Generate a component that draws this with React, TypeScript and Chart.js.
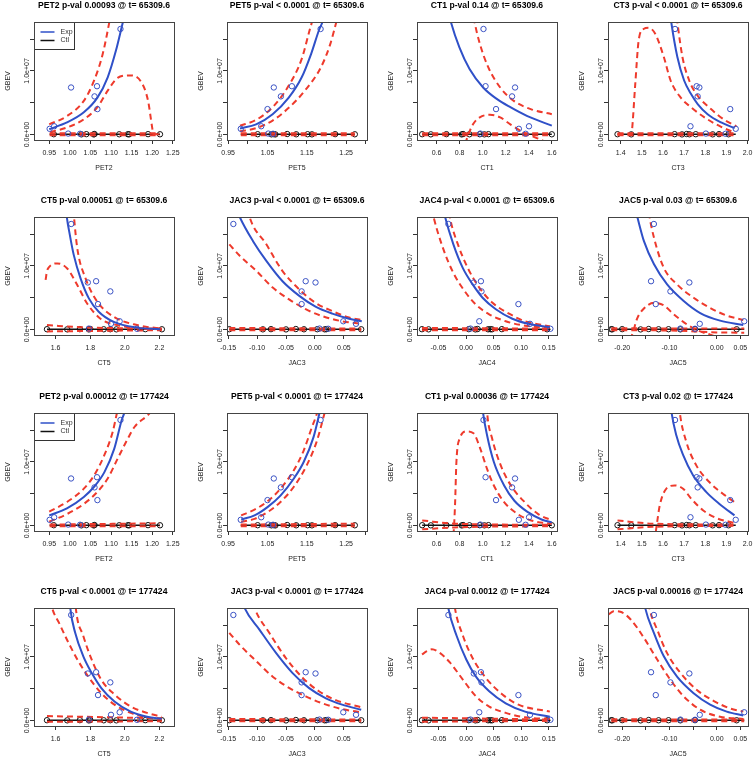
import React, { useEffect, useRef } from "react";
import { Chart, registerables } from "chart.js";

Chart.register(...registerables);

const FONT = '"Liberation Sans", Arial, Helvetica, sans-serif';
const BLUE = "#2f50c8";
const BLUE_PT = "#3a52c4";
const RED = "#ee3a2c";
const BLACK = "#111111";
const DASH = [6, 4];

// ---------------- data (GBEV in millions) ----------------
const EXP_GBEV = [16.6, 7.6, 7.4, 6.0, 4.0, 1.3, 0.9, 0.15, 0.12];
const CTL_GBEV = [0.05, 0.03, 0.06, 0.02, 0.08, 0.04, 0.05, 0.03, 0.06, 0.04];

const Y_RANGE = [-0.86, 17.7];
const Y_TICKS = [0, 5, 10, 15];
const Y_TICK_LABELS = ["0.0e+00", "", "1.0e+07", ""];
const LEGEND_LABELS = ["Exp", "Ctl"];
const LEGEND_COLORS = [BLUE, BLACK];

const PET2_EXP_X = [1.123, 1.066, 1.003, 1.06, 1.067, 0.962, 0.951, 0.996, 1.025];
const PET5_EXP_X = [1.185, 1.112, 1.066, 1.084, 1.05, 1.034, 0.982, 1.052, 1.064];
const CT1_EXP_X = [1.007, 1.025, 1.281, 1.255, 1.116, 1.402, 1.314, 0.98, 1.373];
const CT3_EXP_X = [1.657, 1.759, 1.772, 1.764, 1.918, 1.73, 1.944, 1.803, 1.896];
const CT5_EXP_X = [1.69, 1.834, 1.786, 1.916, 1.845, 1.97, 1.92, 1.792, 2.07];
const JAC3_EXP_X = [-0.141, -0.016, 0.001, -0.023, -0.023, 0.049, 0.071, 0.008, 0.023];
const JAC4_EXP_X = [-0.032, 0.027, 0.014, 0.028, 0.095, 0.024, 0.116, 0.008, 0.153];
const JAC5_EXP_X = [-0.133, -0.139, -0.058, -0.098, -0.129, 0.058, -0.036, -0.077, -0.046];

const PET2_CTL_X = [0.961, 1.028, 1.04, 1.058, 1.06, 1.12, 1.141, 1.144, 1.19, 1.219];
const PET5_CTL_X = [1.025, 1.06, 1.066, 1.07, 1.1, 1.123, 1.152, 1.163, 1.222, 1.272];
const CT1_CTL_X = [0.475, 0.55, 0.685, 0.818, 0.83, 0.885, 0.975, 1.015, 1.05, 1.6];
const CT3_CTL_X = [1.385, 1.45, 1.655, 1.69, 1.712, 1.725, 1.755, 1.835, 1.865, 1.91];
const CT5_CTL_X = [1.55, 1.667, 1.74, 1.792, 1.8, 1.878, 1.916, 1.951, 2.118, 2.214];
const JAC3_CTL_X = [-0.148, -0.09, -0.076, -0.05, -0.033, -0.019, 0.004, 0.017, 0.02, 0.08];
const JAC4_CTL_X = [-0.08, -0.068, 0.005, 0.017, 0.021, 0.04, 0.044, 0.047, 0.065, 0.147];
const JAC5_CTL_X = [-0.223, -0.221, -0.2, -0.161, -0.144, -0.123, -0.102, -0.077, -0.046, 0.042];

const PET2_CTL_FIT = [[0.951, 0.05], [1.219, 0.05]];
const PET5_CTL_FIT = [[0.982, 0.05], [1.272, 0.05]];
const CT1_CTL_FIT = [[0.475, 0.05], [1.6, 0.05]];
const CT3_CTL_FIT = [[1.385, 0.05], [1.944, 0.05]];
const CT5_CTL_FIT = [[1.55, 0.05], [2.214, 0.05]];
const JAC3_CTL_FIT = [[-0.148, 0.05], [0.08, 0.05]];
const JAC4_CTL_FIT = [[-0.08, 0.05], [0.153, 0.05]];
const JAC5_CTL_FIT = [[-0.223, 0.05], [0.058, 0.05]];

const PET2_RANGE = [0.913, 1.253];
const PET5_RANGE = [0.947, 1.303];
const CT1_RANGE = [0.43, 1.645];
const CT3_RANGE = [1.34, 2.002];
const CT5_RANGE = [1.475, 2.284];
const JAC3_RANGE = [-0.152, 0.09];
const JAC4_RANGE = [-0.089, 0.165];
const JAC5_RANGE = [-0.23, 0.066];

const PET2_TICKS = [0.95, 1.0, 1.05, 1.1, 1.15, 1.2, 1.25];
const PET2_TICK_LABELS = ["0.95", "1.00", "1.05", "1.10", "1.15", "1.20", "1.25"];
const PET5_TICKS = [0.95, 1.0, 1.05, 1.1, 1.15, 1.2, 1.25, 1.3];
const PET5_TICK_LABELS = ["0.95", "", "1.05", "", "1.15", "", "1.25", ""];
const CT1_TICKS = [0.6, 0.8, 1.0, 1.2, 1.4, 1.6];
const CT1_TICK_LABELS = ["0.6", "0.8", "1.0", "1.2", "1.4", "1.6"];
const CT3_TICKS = [1.4, 1.5, 1.6, 1.7, 1.8, 1.9, 2.0];
const CT3_TICK_LABELS = ["1.4", "1.5", "1.6", "1.7", "1.8", "1.9", "2.0"];
const CT5_TICKS = [1.6, 1.8, 2.0, 2.2];
const CT5_TICK_LABELS = ["1.6", "1.8", "2.0", "2.2"];
const JAC3_TICKS = [-0.15, -0.1, -0.05, 0, 0.05];
const JAC3_TICK_LABELS = ["-0.15", "-0.10", "-0.05", "0.00", "0.05"];
const JAC4_TICKS = [-0.05, 0, 0.05, 0.1, 0.15];
const JAC4_TICK_LABELS = ["-0.05", "0.00", "0.05", "0.10", "0.15"];
const JAC5_TICKS = [-0.2, -0.15, -0.1, -0.05, 0, 0.05];
const JAC5_TICK_LABELS = ["-0.20", "", "-0.10", "", "0.00", "0.05"];

// ---------- fitted curves ([x, GBEV millions]) ----------
const P1_FIT = [[0.95, 0.84], [0.993, 1.9], [1.034, 3.5], [1.067, 5.8], [1.092, 9.0], [1.112, 13.2], [1.129, 17.7], [1.14, 20.5]];
const P1_UP = [[0.95, 1.6], [0.993, 2.9], [1.034, 5.3], [1.059, 8.5], [1.08, 12.7], [1.096, 17.7], [1.105, 21]];
const P1_LO = [[0.952, 0.4], [0.993, 1.1], [1.034, 2.4], [1.067, 4.3], [1.092, 6.9], [1.116, 8.9], [1.145, 9.3], [1.174, 8.2], [1.19, 5.3], [1.2, 1.1], [1.203, 0.05], [1.219, 0.05]];
const P1_CUP = [[0.951, 0.2], [1.219, 0.2]];
const P1_CLO = [[0.951, -0.1], [1.219, -0.1]];

const P2_FIT = [[0.98, 0.95], [1.021, 1.6], [1.063, 3.2], [1.104, 5.8], [1.137, 9.0], [1.161, 12.7], [1.182, 16.6], [1.19, 17.7], [1.205, 21]];
const P2_UP = [[0.98, 1.4], [1.021, 2.3], [1.063, 4.3], [1.104, 7.7], [1.137, 11.9], [1.157, 16.4], [1.163, 17.7], [1.175, 21]];
const P2_LO = [[0.98, 0.5], [1.021, 1.0], [1.063, 2.2], [1.104, 4.2], [1.145, 6.9], [1.186, 10.6], [1.21, 14.3], [1.225, 17.7], [1.235, 20]];
const P2_CUP = [[0.982, 0.2], [1.272, 0.2]];
const P2_CLO = [[0.982, -0.1], [1.272, -0.1]];

const P3_FIT = [[0.7, 19.5], [0.724, 17.7], [0.798, 13.7], [0.886, 10.3], [1.004, 7.4], [1.122, 5.6], [1.24, 4.3], [1.388, 2.9], [1.6, 1.4]];
const P3_UP = [[0.91, 20], [0.93, 17.7], [0.975, 14.3], [1.048, 10.6], [1.152, 7.4], [1.27, 5.3], [1.417, 4.0], [1.6, 3.2]];
const P3_LO = [[0.85, -1.5], [0.857, -1.0], [0.916, 1.6], [0.975, 2.7], [1.063, 3.1], [1.152, 2.7], [1.24, 1.6], [1.358, 0.3], [1.49, -0.7], [1.55, -1.2]];
const P3_CUP = [[0.475, 0.2], [1.6, 0.2]];
const P3_CLO = [[0.475, -0.1], [1.6, -0.1]];

const P4_FIT = [[1.63, 20], [1.639, 17.7], [1.668, 12.2], [1.7, 8.5], [1.732, 6.4], [1.764, 4.8], [1.811, 3.2], [1.875, 1.9], [1.939, 1.0]];
const P4_UP = [[1.66, 20], [1.668, 17.7], [1.692, 12.2], [1.724, 8.5], [1.764, 6.1], [1.827, 4.0], [1.891, 2.3], [1.947, 1.3]];
const P4_LO = [[1.385, 0.05], [1.45, 0.05], [1.453, 0.5], [1.469, 8.0], [1.485, 14.8], [1.508, 16.6], [1.532, 16.8], [1.564, 15.8], [1.604, 12.2], [1.636, 8.5], [1.684, 5.8], [1.732, 4.3], [1.796, 2.7], [1.875, 1.2], [1.939, 0.3]];
const P4_CUP = [[1.385, 0.2], [1.944, 0.2]];
const P4_CLO = [[1.385, -0.1], [1.944, -0.1]];

const P5_FIT = [[1.655, 20.5], [1.663, 18.05], [1.682, 14.9], [1.705, 11.7], [1.744, 8.05], [1.792, 4.9], [1.849, 2.8], [1.936, 1.2], [2.07, 0.3], [2.204, 0.05]];
const P5_UP = [[1.698, 20.5], [1.705, 18.05], [1.725, 12.8], [1.773, 8.05], [1.84, 4.4], [1.936, 2.0], [2.07, 0.7], [2.204, 0.16]];
const P5_LO = [[1.542, 7.8], [1.552, 9.4], [1.61, 10.4], [1.667, 9.6], [1.725, 7.0], [1.782, 4.1], [1.859, 1.7], [1.955, 0.7], [2.089, 0.16], [2.204, 0.05]];
const P5_CUP = [[1.55, 0.7], [1.75, 0.35], [2.214, 0.15]];
const P5_CLO = [[1.55, -0.3], [2.214, -0.1]];

const P6_FIT = [[-0.14, 20], [-0.13, 17.7], [-0.107, 13.9], [-0.084, 10.8], [-0.056, 7.6], [-0.027, 5.3], [0.001, 3.6], [0.03, 2.5], [0.059, 1.7], [0.081, 1.3]];
const P6_UP = [[-0.12, 20.5], [-0.113, 17.7], [-0.084, 13.4], [-0.056, 9.2], [-0.027, 6.3], [0.001, 4.2], [0.03, 2.9], [0.059, 1.9], [0.081, 1.5]];
const P6_LO = [[-0.148, 13.4], [-0.13, 11.6], [-0.101, 9.2], [-0.073, 6.6], [-0.044, 4.7], [-0.016, 3.2], [0.013, 2.1], [0.047, 1.3], [0.081, 0.9]];
const P6_CUP = [[-0.148, 0.25], [0.08, 0.15]];
const P6_CLO = [[-0.148, -0.1], [0.08, -0.1]];

const P7_FIT = [[-0.045, 20.5], [-0.038, 17.7], [-0.023, 13.4], [-0.006, 9.7], [0.012, 7.1], [0.03, 5.0], [0.054, 3.2], [0.084, 1.7], [0.113, 0.9], [0.152, 0.37]];
const P7_UP = [[-0.034, 20], [-0.028, 17.1], [-0.014, 13.2], [0.003, 9.7], [0.024, 6.6], [0.048, 4.2], [0.078, 2.5], [0.107, 1.3], [0.152, 0.5]];
const P7_LO = [[-0.062, 19], [-0.058, 17.4], [-0.041, 12.6], [-0.023, 8.9], [-0.003, 6.1], [0.018, 3.9], [0.042, 2.4], [0.072, 1.3], [0.107, 0.6], [0.152, 0.25]];
const P7_CUP = [[-0.08, 0.25], [0.153, 0.15]];
const P7_CLO = [[-0.08, -0.1], [0.153, -0.1]];

const P8_FIT = [[-0.178, 20.5], [-0.168, 17.7], [-0.154, 13.9], [-0.133, 10.3], [-0.105, 7.1], [-0.07, 4.5], [-0.035, 2.6], [0.007, 1.4], [0.056, 0.7]];
const P8_UP = [[-0.146, 20], [-0.142, 17.7], [-0.133, 14.5], [-0.112, 9.7], [-0.084, 7.1], [-0.049, 5.0], [-0.014, 3.4], [0.021, 2.2], [0.056, 1.5]];
const P8_LO = [[-0.185, -1.5], [-0.179, -0.8], [-0.168, 1.8], [-0.154, 3.3], [-0.133, 4.2], [-0.112, 3.8], [-0.091, 2.4], [-0.063, 0.8], [-0.035, -0.3], [-0.014, -0.8], [0.0, -1.2]];
const P8_CUP = [[-0.223, 0.2], [0.058, 0.15]];
const P8_CLO = [[-0.223, -0.1], [-0.1, -0.15], [0.0, -0.45], [0.058, -0.5]];

const P9_FIT = [[0.95, 1.6], [0.993, 2.7], [1.034, 4.5], [1.059, 6.1], [1.084, 8.4], [1.108, 12.1], [1.126, 16.6], [1.133, 17.9], [1.142, 21]];
const P9_UP = [[0.95, 2.2], [0.993, 3.7], [1.034, 5.8], [1.059, 7.9], [1.084, 11.1], [1.104, 14.7], [1.115, 17.9], [1.125, 21]];
const P9_LO = [[0.95, 0.6], [0.993, 1.8], [1.034, 3.4], [1.067, 5.3], [1.092, 7.4], [1.116, 10.5], [1.141, 13.7], [1.157, 15.5], [1.19, 17.4], [1.205, 18.5]];
const P9_CUP = [[0.951, 0.15], [1.219, 0.35]];
const P9_CLO = [[0.951, -0.1], [1.219, -0.1]];

const P10_FIT = [[0.983, 0.95], [1.017, 1.6], [1.05, 2.9], [1.083, 4.7], [1.117, 7.4], [1.142, 10.0], [1.167, 13.9], [1.183, 17.9], [1.195, 21]];
const P10_UP = [[0.983, 1.6], [1.017, 2.5], [1.05, 3.8], [1.083, 5.8], [1.117, 8.7], [1.142, 11.8], [1.162, 15.3], [1.177, 17.9], [1.187, 20.5]];
const P10_LO = [[0.983, 0.6], [1.017, 1.05], [1.05, 2.1], [1.083, 3.7], [1.117, 6.1], [1.15, 9.5], [1.175, 13.2], [1.196, 17.9], [1.205, 20]];
const P10_CUP = [[0.982, 0.15], [1.272, 0.3]];
const P10_CLO = [[0.982, -0.1], [1.272, -0.1]];

const P11_FIT = [[0.99, 20], [1.002, 17.9], [1.038, 14.2], [1.097, 10.0], [1.186, 6.3], [1.275, 3.9], [1.393, 2.1], [1.511, 0.95], [1.6, 0.5]];
const P11_UP = [[1.03, 20.5], [1.038, 17.9], [1.082, 13.7], [1.156, 9.5], [1.245, 6.3], [1.363, 3.7], [1.482, 1.8], [1.6, 0.8]];
const P11_LO = [[0.745, -1.5], [0.748, -1.05], [0.76, 3.2], [0.772, 10.0], [0.801, 13.7], [0.86, 14.8], [0.92, 14.5], [0.979, 12.1], [1.038, 8.9], [1.097, 6.3], [1.186, 3.7], [1.304, 1.8], [1.422, 0.8], [1.6, 0.26]];
const P11_CUP = [[0.475, 0.8], [0.75, 0.3], [1.6, 0.1]];
const P11_CLO = [[0.475, -0.6], [0.75, -0.3], [1.6, -0.1]];

const P12_FIT = [[1.63, 21], [1.64, 17.9], [1.663, 14.2], [1.695, 11.1], [1.742, 7.9], [1.804, 5.3], [1.867, 3.4], [1.938, 1.6]];
const P12_UP = [[1.672, 20.5], [1.679, 17.9], [1.71, 13.2], [1.757, 9.5], [1.82, 6.8], [1.883, 5.0], [1.938, 3.7]];
const P12_LO = [[1.566, -1.0], [1.569, -0.26], [1.585, 3.2], [1.616, 5.8], [1.655, 6.3], [1.695, 5.8], [1.734, 4.2], [1.789, 2.4], [1.851, 1.2], [1.938, 0.4]];
const P12_CUP = [[1.385, 0.8], [1.55, 0.3], [1.944, 0.15]];
const P12_CLO = [[1.385, -0.6], [1.55, -0.2], [1.944, -0.05]];

const P13_FIT = [[1.675, 21], [1.685, 17.6], [1.713, 13.8], [1.76, 10.1], [1.808, 7.5], [1.864, 5.1], [1.94, 3.0], [2.034, 1.4], [2.128, 0.6], [2.213, 0.26]];
const P13_UP = [[1.708, 21], [1.717, 17.6], [1.76, 13.3], [1.808, 9.6], [1.864, 6.4], [1.94, 4.1], [2.034, 2.2], [2.128, 1.2], [2.213, 0.6]];
const P13_LO = [[1.57, 19], [1.581, 17.6], [1.619, 15.4], [1.675, 12.2], [1.732, 9.3], [1.789, 6.9], [1.864, 4.3], [1.94, 2.5], [2.034, 1.2], [2.128, 0.5], [2.213, 0.2]];
const P13_CUP = [[1.55, 0.7], [2.214, 0.35]];
const P13_CLO = [[1.55, -0.2], [2.214, -0.1]];

const P14_FIT = [[-0.13, 20], [-0.121, 17.6], [-0.096, 14.3], [-0.067, 10.6], [-0.039, 7.5], [-0.01, 5.1], [0.019, 3.5], [0.047, 2.5], [0.08, 1.7]];
const P14_UP = [[-0.112, 20], [-0.104, 17.6], [-0.079, 13.8], [-0.05, 9.8], [-0.021, 6.7], [0.007, 4.6], [0.036, 3.2], [0.08, 2.1]];
const P14_LO = [[-0.148, 13.8], [-0.13, 11.9], [-0.101, 9.3], [-0.073, 6.9], [-0.044, 5.1], [-0.016, 3.8], [0.013, 2.7], [0.047, 1.8], [0.08, 1.3]];
const P14_CUP = [[-0.148, 0.25], [0.08, 0.15]];
const P14_CLO = [[-0.148, -0.1], [0.08, -0.1]];

const P15_FIT = [[-0.038, 21], [-0.032, 17.6], [-0.017, 13.3], [0.0004, 9.6], [0.018, 6.9], [0.042, 4.6], [0.072, 2.7], [0.107, 1.4], [0.152, 0.6]];
const P15_UP = [[-0.025, 21], [-0.02, 17.6], [-0.0055, 13.3], [0.012, 9.8], [0.036, 6.7], [0.066, 4.1], [0.095, 2.5], [0.152, 1.4]];
const P15_LO = [[-0.08, 10.4], [-0.071, 10.9], [-0.062, 11.2], [-0.047, 10.6], [-0.029, 9.1], [-0.0055, 6.4], [0.018, 3.8], [0.042, 2.2], [0.072, 1.2], [0.107, 0.5], [0.152, 0.26]];
const P15_CUP = [[-0.08, 0.45], [0.153, 0.15]];
const P15_CLO = [[-0.08, -0.2], [0.153, -0.05]];

const P16_FIT = [[-0.158, 20.5], [-0.151, 17.6], [-0.133, 13.8], [-0.112, 10.1], [-0.084, 6.9], [-0.049, 4.3], [-0.014, 2.5], [0.021, 1.4], [0.056, 0.8]];
const P16_UP = [[-0.147, 20], [-0.142, 17.6], [-0.126, 14.3], [-0.105, 10.6], [-0.077, 7.5], [-0.042, 4.8], [-0.007, 3.1], [0.028, 1.9], [0.056, 1.4]];
const P16_LO = [[-0.228, 16.7], [-0.218, 17.2], [-0.204, 17.1], [-0.182, 15.9], [-0.154, 13.0], [-0.126, 9.6], [-0.098, 6.4], [-0.07, 3.8], [-0.035, 1.7], [0.007, 0.6], [0.056, 0.26]];
const P16_CUP = [[-0.223, 0.2], [0.058, 0.15]];
const P16_CLO = [[-0.223, -0.1], [0.058, -0.1]];

const PANEL_TITLES = [
  "PET2 p-val 0.00093 @ t= 65309.6",
  "PET5 p-val < 0.0001 @ t= 65309.6",
  "CT1 p-val 0.14 @ t= 65309.6",
  "CT3 p-val < 0.0001 @ t= 65309.6",
  "CT5 p-val 0.00051 @ t= 65309.6",
  "JAC3 p-val < 0.0001 @ t= 65309.6",
  "JAC4 p-val < 0.0001 @ t= 65309.6",
  "JAC5 p-val 0.03 @ t= 65309.6",
  "PET2 p-val 0.00012 @ t= 177424",
  "PET5 p-val < 0.0001 @ t= 177424",
  "CT1 p-val 0.00036 @ t= 177424",
  "CT3 p-val 0.02 @ t= 177424",
  "CT5 p-val < 0.0001 @ t= 177424",
  "JAC3 p-val < 0.0001 @ t= 177424",
  "JAC4 p-val 0.0012 @ t= 177424",
  "JAC5 p-val 0.00016 @ t= 177424",
];
const PANEL_VARS = ["PET2", "PET5", "CT1", "CT3", "CT5", "JAC3", "JAC4", "JAC5", "PET2", "PET5", "CT1", "CT3", "CT5", "JAC3", "JAC4", "JAC5"];
const PANEL_LEGEND = [true, false, false, false, false, false, false, false, true, false, false, false, false, false, false, false];

// ---------- tables built from the arrays ----------
const VARIABLES: any = {
  PET2: { expX: PET2_EXP_X, ctlX: PET2_CTL_X, ctlFit: PET2_CTL_FIT, range: PET2_RANGE, ticks: PET2_TICKS, labels: PET2_TICK_LABELS },
  PET5: { expX: PET5_EXP_X, ctlX: PET5_CTL_X, ctlFit: PET5_CTL_FIT, range: PET5_RANGE, ticks: PET5_TICKS, labels: PET5_TICK_LABELS },
  CT1: { expX: CT1_EXP_X, ctlX: CT1_CTL_X, ctlFit: CT1_CTL_FIT, range: CT1_RANGE, ticks: CT1_TICKS, labels: CT1_TICK_LABELS },
  CT3: { expX: CT3_EXP_X, ctlX: CT3_CTL_X, ctlFit: CT3_CTL_FIT, range: CT3_RANGE, ticks: CT3_TICKS, labels: CT3_TICK_LABELS },
  CT5: { expX: CT5_EXP_X, ctlX: CT5_CTL_X, ctlFit: CT5_CTL_FIT, range: CT5_RANGE, ticks: CT5_TICKS, labels: CT5_TICK_LABELS },
  JAC3: { expX: JAC3_EXP_X, ctlX: JAC3_CTL_X, ctlFit: JAC3_CTL_FIT, range: JAC3_RANGE, ticks: JAC3_TICKS, labels: JAC3_TICK_LABELS },
  JAC4: { expX: JAC4_EXP_X, ctlX: JAC4_CTL_X, ctlFit: JAC4_CTL_FIT, range: JAC4_RANGE, ticks: JAC4_TICKS, labels: JAC4_TICK_LABELS },
  JAC5: { expX: JAC5_EXP_X, ctlX: JAC5_CTL_X, ctlFit: JAC5_CTL_FIT, range: JAC5_RANGE, ticks: JAC5_TICKS, labels: JAC5_TICK_LABELS },
};

const CURVES: any[] = [
  [P1_FIT, P1_UP, P1_LO, P1_CUP, P1_CLO],
  [P2_FIT, P2_UP, P2_LO, P2_CUP, P2_CLO],
  [P3_FIT, P3_UP, P3_LO, P3_CUP, P3_CLO],
  [P4_FIT, P4_UP, P4_LO, P4_CUP, P4_CLO],
  [P5_FIT, P5_UP, P5_LO, P5_CUP, P5_CLO],
  [P6_FIT, P6_UP, P6_LO, P6_CUP, P6_CLO],
  [P7_FIT, P7_UP, P7_LO, P7_CUP, P7_CLO],
  [P8_FIT, P8_UP, P8_LO, P8_CUP, P8_CLO],
  [P9_FIT, P9_UP, P9_LO, P9_CUP, P9_CLO],
  [P10_FIT, P10_UP, P10_LO, P10_CUP, P10_CLO],
  [P11_FIT, P11_UP, P11_LO, P11_CUP, P11_CLO],
  [P12_FIT, P12_UP, P12_LO, P12_CUP, P12_CLO],
  [P13_FIT, P13_UP, P13_LO, P13_CUP, P13_CLO],
  [P14_FIT, P14_UP, P14_LO, P14_CUP, P14_CLO],
  [P15_FIT, P15_UP, P15_LO, P15_CUP, P15_CLO],
  [P16_FIT, P16_UP, P16_LO, P16_CUP, P16_CLO],
];

// ---------- layout ----------
const COL_LEFT = [34, 227, 417, 608];
const ROW_TOP = [22, 217, 412.5, 608];
const BOX_W = 140;
const BOX_H = 118;
const AXIS_W = 34;
const TITLE_H = 24;
const XAXIS_H = 36;
const RIGHT_PAD = 12;

const framePlugin = {
  id: "rFrame",
  afterDraw(chart: any) {
    const { ctx, chartArea: a, scales } = chart;
    ctx.save();
    ctx.strokeStyle = "#444";
    ctx.lineWidth = 1;
    ctx.strokeRect(Math.round(a.left) + 0.5, Math.round(a.top) + 0.5, Math.round(a.right - a.left), Math.round(a.bottom - a.top));
    ctx.fillStyle = "#222";
    ctx.font = `7px ${FONT}`;
    ctx.textAlign = "center";
    ctx.textBaseline = "middle";
    Y_TICKS.forEach((v, i) => {
      const lab = Y_TICK_LABELS[i];
      if (!lab) return;
      const y = scales.y.getPixelForValue(v);
      ctx.save();
      ctx.translate(a.left - 6.5, y);
      ctx.rotate(-Math.PI / 2);
      ctx.fillText(lab, 0, 0);
      ctx.restore();
    });
    ctx.restore();
  },
};

const legendPlugin = {
  id: "rLegend",
  afterDatasetsDraw(chart: any, _args: any, opts: any) {
    if (!opts || !opts.show) return;
    const { ctx, chartArea: a } = chart;
    const x0 = Math.round(a.left) + 0.5;
    const y0 = Math.round(a.top) + 0.5;
    ctx.save();
    ctx.fillStyle = "#fff";
    ctx.fillRect(x0, y0, 40, 27);
    ctx.strokeStyle = "#333";
    ctx.lineWidth = 1;
    ctx.strokeRect(x0, y0, 40, 27);
    ctx.font = `7px ${FONT}`;
    ctx.textBaseline = "middle";
    ctx.textAlign = "left";
    LEGEND_LABELS.forEach((lab, i) => {
      const y = y0 + 9.5 + i * 8.5;
      ctx.strokeStyle = LEGEND_COLORS[i];
      ctx.lineWidth = 1.5;
      ctx.beginPath();
      ctx.moveTo(x0 + 6, y);
      ctx.lineTo(x0 + 20, y);
      ctx.stroke();
      ctx.fillStyle = "#333";
      ctx.fillText(lab, x0 + 26, y);
    });
    ctx.restore();
  },
};

function toPts(xs: number[], ys: number[]) {
  return xs.map((x, i) => ({ x, y: ys[i] }));
}
function toCurve(arr: number[][]) {
  return arr.map(([x, y]) => ({ x, y }));
}
function lineDs(arr: number[][], color: string, dash: number[], width: number) {
  return {
    data: toCurve(arr),
    borderColor: color,
    backgroundColor: color,
    borderWidth: width,
    borderDash: dash,
    pointRadius: 0,
    fill: false,
    cubicInterpolationMode: "monotone",
    clip: 0,
  };
}

function Panel({ idx }: { idx: number }) {
  const ref = useRef<HTMLCanvasElement | null>(null);
  const col = idx % 4;
  const row = Math.floor(idx / 4);
  const width = AXIS_W + BOX_W + RIGHT_PAD;
  const height = TITLE_H + BOX_H + XAXIS_H;
  useEffect(() => {
    const v = VARIABLES[PANEL_VARS[idx]];
    const [fit, up, lo, cup, clo] = CURVES[idx];
    const datasets: any[] = [
      {
        label: "Exp",
        data: toPts(v.expX, EXP_GBEV),
        showLine: false,
        pointRadius: 2.7,
        pointBorderWidth: 1,
        pointBorderColor: BLUE_PT,
        pointBackgroundColor: "rgba(0,0,0,0)",
        borderColor: BLUE_PT,
        backgroundColor: "rgba(0,0,0,0)",
      },
      lineDs(fit, BLUE, [], 2),
      lineDs(up, RED, DASH, 2),
      lineDs(lo, RED, DASH, 2),
      lineDs(cup, RED, DASH, 2),
      lineDs(clo, RED, DASH, 2),
      lineDs(v.ctlFit, BLACK, [], 1.5),
      {
        label: "Ctl",
        data: toPts(v.ctlX, CTL_GBEV),
        showLine: false,
        pointRadius: 2.7,
        pointBorderWidth: 1,
        pointBorderColor: BLACK,
        pointBackgroundColor: "rgba(0,0,0,0)",
        borderColor: BLACK,
        backgroundColor: "rgba(0,0,0,0)",
      },
    ];
    const chart = new Chart(ref.current as HTMLCanvasElement, {
      type: "line",
      data: { datasets },
      plugins: [framePlugin, legendPlugin],
      options: {
        animation: false,
        responsive: false,
        devicePixelRatio: 1,
        events: [],
        layout: { padding: { left: 0, right: RIGHT_PAD, top: 0, bottom: 0 } },
        plugins: {
          legend: { display: false },
          tooltip: { enabled: false },
          title: {
            display: true,
            text: PANEL_TITLES[idx],
            fullSize: false,
            color: "#000",
            font: { family: FONT, size: 8.6, weight: "bold" },
            padding: { top: 2, bottom: TITLE_H - 2 - 8.6 * 1.2 },
          },
          rLegend: { show: PANEL_LEGEND[idx] },
        } as any,
        scales: {
          x: {
            type: "linear",
            min: v.range[0],
            max: v.range[1],
            afterBuildTicks: (s: any) => {
              s.ticks = v.ticks.map((t: number) => ({ value: t }));
            },
            afterFit: (s: any) => {
              s.height = XAXIS_H;
            },
            ticks: {
              autoSkip: false,
              maxRotation: 0,
              minRotation: 0,
              padding: 5.3,
              color: "#222",
              font: { family: FONT, size: 7 },
              callback: (_val: any, i: number) => v.labels[i],
            },
            grid: { drawOnChartArea: false, drawTicks: true, tickLength: 4, color: "#333", lineWidth: 1 },
            border: { display: false },
            title: {
              display: true,
              text: PANEL_VARS[idx],
              color: "#222",
              font: { family: FONT, size: 7 },
              padding: { top: 0, bottom: 3.8 },
            },
          },
          y: {
            type: "linear",
            min: Y_RANGE[0],
            max: Y_RANGE[1],
            afterBuildTicks: (s: any) => {
              s.ticks = Y_TICKS.map((t) => ({ value: t }));
            },
            afterFit: (s: any) => {
              s.width = AXIS_W;
            },
            ticks: { display: false },
            grid: { drawOnChartArea: false, drawTicks: true, tickLength: 4, color: "#333", lineWidth: 1 },
            border: { display: false },
            title: {
              display: true,
              text: "GBEV",
              color: "#222",
              font: { family: FONT, size: 7 },
              padding: { top: 3.8, bottom: 0 },
            },
          },
        },
      } as any,
    } as any);
    return () => chart.destroy();
  }, [idx]);
  return (
    <canvas
      ref={ref}
      width={width}
      height={height}
      style={{
        position: "absolute",
        left: COL_LEFT[col] - AXIS_W,
        top: ROW_TOP[row] - TITLE_H,
        width,
        height,
      }}
    />
  );
}

export default function App() {
  return (
    <div
      style={{
        position: "fixed",
        left: 0,
        top: 0,
        width: 754,
        height: 760,
        overflow: "hidden",
        background: "#fff",
      }}
    >
      {PANEL_TITLES.map((_, i) => (
        <Panel key={i} idx={i} />
      ))}
    </div>
  );
}
